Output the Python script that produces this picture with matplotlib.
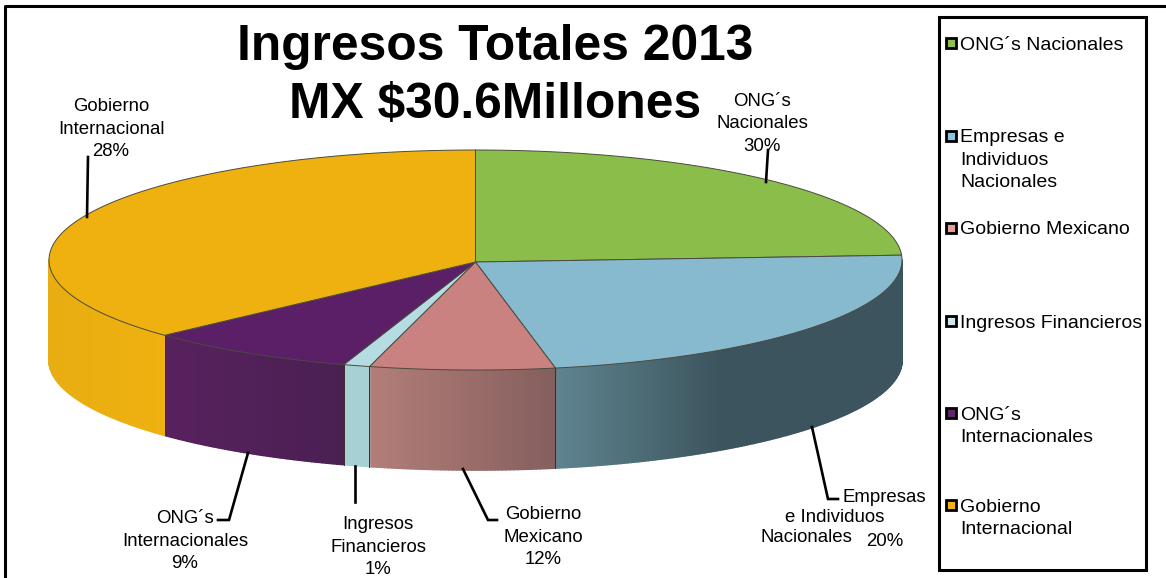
"""plot.py: draws the Ingresos Totales 2013 pie as a tilted 3D disc and saves out.png"""

import numpy as np
import matplotlib
matplotlib.use('Agg')
import matplotlib.pyplot as plt
from matplotlib.collections import PolyCollection
from matplotlib.colors import to_rgb
from matplotlib.patches import Rectangle

plt.rcParams['font.family'] = ['Liberation Sans', 'DejaVu Sans']

categories = ['ONG´s Nacionales', 'Empresas e Individuos Nacionales', 'Gobierno Mexicano',
              'Ingresos Financieros', 'ONG´s Internacionales', 'Gobierno Internacional']
# the percentages printed on the chart
printed_pct = [30, 20, 12, 1, 9, 28]
# share of the disc each slice really covers in the picture (does not follow the printed numbers)
drawn_share = [24.3, 22.7, 7.0, 1.0, 8.0, 37.0]
legend_names = ['ONG´s Nacionales', 'Empresas e\nIndividuos\nNacionales', 'Gobierno Mexicano',
                'Ingresos Financieros', 'ONG´s\nInternacionales', 'Gobierno\nInternacional']

top_colors = ['#8abd4a', '#87b9cf', '#c9827f', '#b5dbe3', '#5a1f66', '#eeb10f']
# wall colours, (left end, right end) of each slice
wall_colors = [('#6f9a3c', '#6f9a3c'), ('#5f8591', '#3c545d'), ('#b47e79', '#845f5e'),
               ('#a6d0d3', '#a6d0d3'), ('#58215f', '#4a2052'), ('#e8ad12', '#eeb10f')]
key_colors = ['#8fc04f', '#8cc4dc', '#e0a09c', '#cfe6ec', '#5f2569', '#f0b414']

# disc geometry in picture pixels
cx, cy = 475.5, 260.0
rx, ry = 426.5, 110.0
depth = 100.0


def rim(theta):
    """Point on the top rim, theta in degrees clockwise from the top of the disc."""
    t = np.radians(theta)
    return cx + rx * np.sin(t), cy - ry * np.cos(t)


def mix(c0, c1, f):
    a, b = np.array(to_rgb(c0)), np.array(to_rgb(c1))
    return tuple(a + (b - a) * f)


fig = plt.figure(figsize=(11.66, 5.78), dpi=100)
ax = fig.add_axes([0, 0, 1, 1])
ax.set_xlim(0, 1166)
ax.set_ylim(578, 0)
ax.axis('off')

# outer frame
ax.plot([5, 5, 1166], [578, 5.5, 5.5], color='black', lw=2.2, solid_capstyle='butt')

edges = np.concatenate([[0], np.cumsum(drawn_share)]) / np.sum(drawn_share) * 360

# front wall, only the part between 90 and 270 degrees can be seen
for i in range(len(drawn_share)):
    a0, a1 = max(edges[i], 90), min(edges[i + 1], 270)
    if a1 <= a0:
        continue
    steps = np.linspace(a0, a1, max(int((a1 - a0) * 2), 3))
    right_x, left_x = rim(a0)[0], rim(a1)[0]
    polys, cols = [], []
    for k in range(len(steps) - 1):
        x0, y0 = rim(steps[k])
        x1, y1 = rim(steps[k + 1])
        polys.append([(x0, y0), (x1, y1), (x1, y1 + depth), (x0, y0 + depth)])
        f = (x0 - left_x) / (right_x - left_x)
        # the blue wall is already at its dark end about half way along
        if i == 1:
            f = min(f / 0.48, 1)
        cols.append(mix(wall_colors[i][0], wall_colors[i][1], f))
    ax.add_collection(PolyCollection(polys, facecolors=cols, edgecolors=cols, linewidths=1.2, zorder=2))
    # seam between two walls
    x0, y0 = rim(a0)
    if a0 > 90:
        ax.plot([x0, x0], [y0, y0 + depth], color='#3a2a30', lw=0.7, zorder=3)

# top face
for i in range(len(drawn_share)):
    t = np.linspace(edges[i], edges[i + 1], 200)
    xs, ys = rim(t)
    ax.fill(np.r_[cx, xs], np.r_[cy + 2, ys], facecolor=top_colors[i], edgecolor='#4a4a40',
            lw=0.7, zorder=4)

# leader lines
leaders = [
    ([88, 87], [157, 217]),
    ([768, 766], [150, 182]),
    ([812, 828, 838], [427, 499, 499]),
    ([463, 488, 497], [469, 520, 520]),
    ([355, 355], [466, 502]),
    ([248, 229, 218], [453, 520, 520]),
]
for xs, ys in leaders:
    ax.plot(xs, ys, color='black', lw=1.9, zorder=5, solid_joinstyle='miter')

# slice labels
label_size = 13.4
spacing = 1.4
ax.text(111, 129, 'Gobierno\nInternacional\n' + f'{printed_pct[5]}%', ha='center', va='center',
        fontsize=label_size, linespacing=spacing)
ax.text(762, 124, 'ONG´s\nNacionales\n' + f'{printed_pct[0]}%', ha='center', va='center',
        fontsize=label_size, linespacing=spacing)
ax.text(843, 497, 'Empresas', ha='left', va='center', fontsize=label_size)
ax.text(835, 517, 'e Individuos', ha='center', va='center', fontsize=label_size)
ax.text(761, 538, 'Nacionales', ha='left', va='center', fontsize=label_size)
ax.text(866, 541, f'{printed_pct[1]}%', ha='left', va='center', fontsize=label_size)
ax.text(543, 537, 'Gobierno\nMexicano\n' + f'{printed_pct[2]}%', ha='center', va='center',
        fontsize=label_size, linespacing=spacing)
ax.text(378, 547, 'Ingresos\nFinancieros\n' + f'{printed_pct[3]}%', ha='center', va='center',
        fontsize=label_size, linespacing=spacing)
ax.text(185, 541, 'ONG´s\nInternacionales\n' + f'{printed_pct[4]}%', ha='center', va='center',
        fontsize=label_size, linespacing=spacing)

# title
ax.text(495, 47, 'Ingresos Totales 2013', ha='center', va='center', fontsize=35.8, fontweight='bold', zorder=6)
ax.text(495, 104.5, 'MX $30.6Millones', ha='center', va='center', fontsize=35.8, fontweight='bold', zorder=6)

# legend box and keys
ax.add_patch(Rectangle((939, 17), 207, 553, facecolor='white', edgecolor='black', lw=2.2, zorder=5))
key_y = [44, 137, 229, 322, 414, 506]
for name, color, y in zip(legend_names, key_colors, key_y):
    ax.add_patch(Rectangle((946, y - 6), 10, 10, facecolor=color, edgecolor='black', lw=2, zorder=6))
    ax.text(960, y - 7.5, name, ha='left', va='top', fontsize=14.0, linespacing=1.42, zorder=6)

fig.savefig('out.png', dpi=100)
